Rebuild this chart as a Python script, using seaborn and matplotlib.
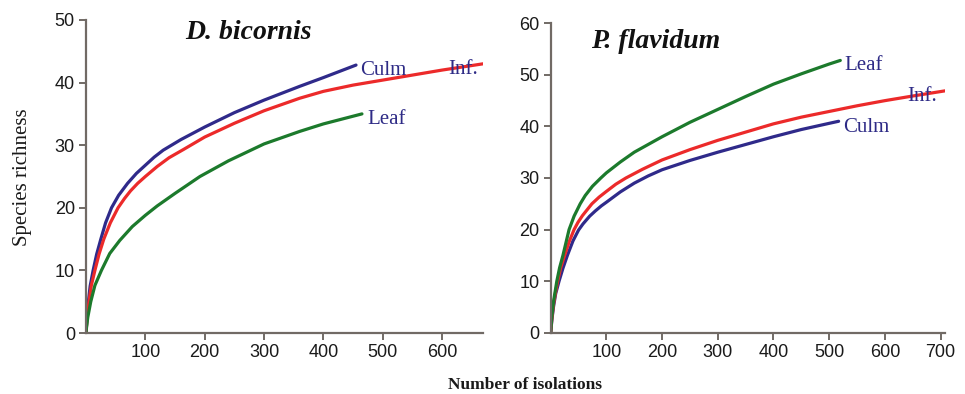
import numpy as np
import pandas as pd
import matplotlib
matplotlib.use("Agg")
import matplotlib.pyplot as plt
import seaborn as sns

# ---- data ----
# D. bicornis
db_culm_x = [0, 1, 2, 4, 7, 12, 18, 25, 33, 43, 55, 70, 85, 100, 115, 130, 160, 200, 250, 300, 360, 400, 455]
db_culm_y = [0, 1.5, 3, 5, 7.5, 10, 12.6, 15, 17.6, 20, 22, 23.9, 25.5, 26.8, 28.1, 29.2, 30.9, 32.9, 35.2, 37.2, 39.4, 40.8, 42.8]
db_inf_x = [0, 1, 2, 5, 9, 15, 22, 30, 41, 54, 65, 75, 87, 100, 120, 140, 164, 200, 250, 300, 360, 400, 450, 500, 550, 600, 669]
db_inf_y = [0, 1.3, 2.6, 5, 7.6, 10, 12.6, 15, 17.6, 20, 21.5, 22.7, 23.9, 25, 26.6, 28, 29.3, 31.3, 33.5, 35.5, 37.5, 38.6, 39.6, 40.4, 41.2, 42.0, 43.0]
db_leaf_x = [0, 1, 3, 8, 15, 26, 40, 57, 78, 100, 120, 150, 192, 240, 300, 360, 400, 465]
db_leaf_y = [0, 1, 2.5, 5, 7.6, 10, 12.7, 14.8, 17, 18.8, 20.3, 22.3, 25, 27.5, 30.2, 32.2, 33.4, 35.0]

# P. flavidum
pf_leaf_x = [0, 1, 2, 5, 11, 16, 22, 33, 42, 53, 62, 75, 90, 100, 125, 150, 200, 250, 300, 350, 400, 450, 500, 520]
pf_leaf_y = [0, 1.5, 3, 6, 10, 12.6, 15, 20, 22.6, 25, 26.6, 28.4, 30, 31.0, 33.1, 35, 38, 40.8, 43.3, 45.8, 48.2, 50.2, 52.1, 52.8]
pf_inf_x = [0, 1, 2, 5, 9, 12.5, 18, 25, 33, 42, 49, 57, 74, 87, 100, 117, 135, 165, 200, 250, 300, 350, 400, 450, 500, 550, 600, 650, 708]
pf_inf_y = [0, 1.3, 2.6, 5.5, 8, 10, 12.6, 15, 17.6, 20, 21.4, 22.7, 25, 26.3, 27.4, 28.8, 30, 31.7, 33.5, 35.5, 37.3, 38.9, 40.5, 41.8, 42.9, 44.0, 45.0, 45.9, 46.9]
pf_culm_x = [0, 1, 2, 5, 9, 15, 22, 30, 40, 50, 58, 70, 80, 91, 100, 125, 150, 175, 200, 250, 300, 350, 400, 450, 500, 517]
pf_culm_y = [0, 1.2, 2.4, 5, 7.6, 10, 12.5, 15, 17.8, 19.9, 21.1, 22.6, 23.6, 24.6, 25.3, 27.3, 29, 30.4, 31.6, 33.4, 35, 36.5, 38, 39.4, 40.6, 41.0]

parts = ["Culm", "Inf.", "Leaf"]
titles = ["D. bicornis", "P. flavidum"]
left_xticks = [100, 200, 300, 400, 500, 600]
right_xticks = [100, 200, 300, 400, 500, 600, 700]
left_yticks = [0, 10, 20, 30, 40, 50]
right_yticks = [0, 10, 20, 30, 40, 50, 60]

def frame(series):
    rows = []
    for name, xs, ys in series:
        for x, y in zip(xs, ys):
            rows.append({"part": name, "x": x, "y": y})
    return pd.DataFrame(rows)

df_left = frame([("Culm", db_culm_x, db_culm_y), ("Inf.", db_inf_x, db_inf_y),
                 ("Leaf", db_leaf_x, db_leaf_y)])
df_right = frame([("Culm", pf_culm_x, pf_culm_y), ("Inf.", pf_inf_x, pf_inf_y),
                  ("Leaf", pf_leaf_x, pf_leaf_y)])

sns.set_theme(style="white")
plt.rcParams["font.family"] = ["Liberation Sans", "DejaVu Sans"]

palette = {"Culm": "#2f2a8a", "Inf.": "#ec2a2a", "Leaf": "#1c7a2c"}
label_color = "#2e2b86"
spine_color = "#716a65"

fig = plt.figure(figsize=(9.65, 3.94), dpi=100)
W, H = 965, 394
ax1 = fig.add_axes([86 / W, (H - 333) / H, 397 / W, 313 / H])
ax2 = fig.add_axes([550.7 / W, (H - 332.7) / H, 394.3 / W, 309.4 / H])

for ax, df, xlim, ylim, xt, yt in [
    (ax1, df_left, (0, 669), (0, 50), left_xticks, left_yticks),
    (ax2, df_right, (0, 708), (0, 60), right_xticks, right_yticks),
]:
    sns.lineplot(data=df, x="x", y="y", hue="part", palette=palette,
                 estimator=None, sort=False, linewidth=2.3, legend=False, ax=ax)
    for ln in ax.get_lines():
        ln.set_solid_joinstyle("round")
        ln.set_solid_capstyle("round")
    ax.set_xlim(*xlim)
    ax.set_ylim(*ylim)
    ax.set_xticks(xt)
    ax.set_yticks(yt)
    ax.set_xlabel("")
    ax.set_ylabel("")
    for s in ["top", "right"]:
        ax.spines[s].set_visible(False)
    for s in ["left", "bottom"]:
        ax.spines[s].set_color(spine_color)
        ax.spines[s].set_linewidth(1.6)
    ax.tick_params(axis="both", which="major", direction="out", length=5,
                   width=1.4, color=spine_color, labelsize=13, labelcolor="#1a1a1a",
                   left=True, bottom=True, pad=3)
    ax.set_facecolor("none")

serif = ["Liberation Serif", "DejaVu Serif"]
# curve labels
ax1.text(462, 42.0, "Culm", color=label_color, fontsize=15, family=serif, ha="left", va="center")
ax1.text(610, 42.1, "Inf.", color=label_color, fontsize=15, family=serif, ha="left", va="center")
ax1.text(474, 34.1, "Leaf", color=label_color, fontsize=15, family=serif, ha="left", va="center")
ax2.text(528, 51.9, "Leaf", color=label_color, fontsize=15, family=serif, ha="left", va="center")
ax2.text(641, 45.8, "Inf.", color=label_color, fontsize=15, family=serif, ha="left", va="center")
ax2.text(525, 39.8, "Culm", color=label_color, fontsize=15, family=serif, ha="left", va="center")

# panel titles
ax1.text(273, 48.0, titles[0], fontsize=20, family=serif, weight="bold", style="italic",
         ha="center", va="center", color="#111111")
ax2.text(189, 56.4, titles[1], fontsize=20, family=serif, weight="bold", style="italic",
         ha="center", va="center", color="#111111")

fig.text(23 / W, 1 - 177 / H, "Species richness", rotation=90, fontsize=15, family=serif,
         ha="center", va="center", color="#1a1a1a")
fig.text(525 / W, 1 - 385 / H, "Number of isolations", fontsize=12.5, family=serif,
         weight="bold", ha="center", va="center", color="#1a1a1a")

fig.savefig("out.png", dpi=100, facecolor="white")
